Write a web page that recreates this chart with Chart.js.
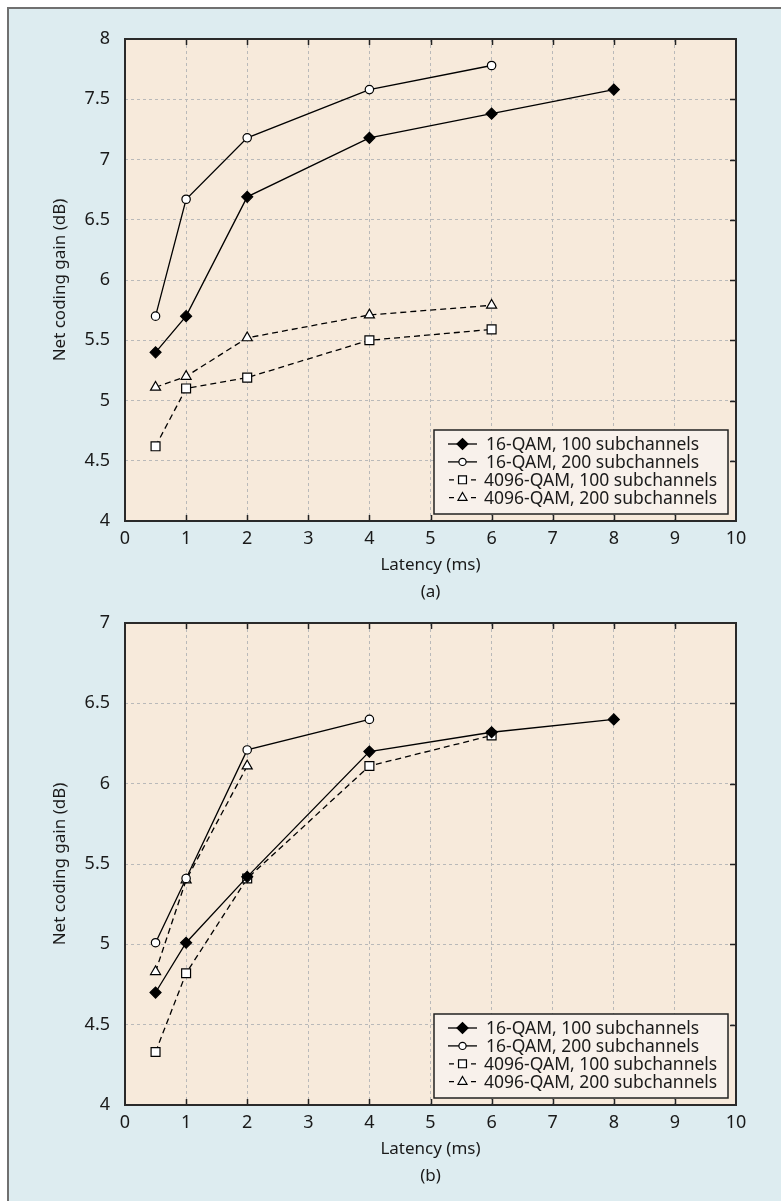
<!DOCTYPE html>
<html>
<head>
<meta charset="utf-8">
<script src="https://cdn.jsdelivr.net/npm/chart.js@4.4.1/dist/chart.umd.min.js"></script>
<style>
  html, body { margin: 0; padding: 0; background: #fff; }
  #panel { position: absolute; left: 7px; top: 7px; width: 772px; height: 1192px; background: #ddecf0;
           border-left: 2px solid #707070; border-top: 2px solid #707070; }
  .box { position: absolute; left: 0; width: 781px; height: 610px; }
</style>
</head>
<body>
<div id="panel"></div>
<div class="box" style="top:0"><canvas id="chartA" width="781" height="610"></canvas></div>
<div class="box" style="top:584px"><canvas id="chartB" width="781" height="610"></canvas></div>
<script>
// latency (ms) for each point
const latency = [0.5, 1, 2, 4, 6, 8];
const seriesNames = ["16-QAM, 100 subchannels", "16-QAM, 200 subchannels",
                     "4096-QAM, 100 subchannels", "4096-QAM, 200 subchannels"];

// (a) net coding gain (dB)
const a16_100 = [5.40, 5.70, 6.69, 7.18, 7.38, 7.58];
const a16_200 = [5.70, 6.67, 7.18, 7.58, 7.78];
const a4096_100 = [4.62, 5.10, 5.19, 5.50, 5.59];
const a4096_200 = [5.11, 5.20, 5.52, 5.71, 5.79];

// (b) net coding gain (dB)
const b16_100 = [4.70, 5.01, 5.42, 6.20, 6.32, 6.40];
const b16_200 = [5.01, 5.41, 6.21, 6.40];
const b4096_100 = [4.33, 4.82, 5.41, 6.11, 6.30];
const b4096_200 = [4.83, 5.40, 6.11];

const xTicks = [0, 1, 2, 3, 4, 5, 6, 7, 8, 9, 10];
const yTicksA = [4, 4.5, 5, 5.5, 6, 6.5, 7, 7.5, 8];
const yTicksB = [4, 4.5, 5, 5.5, 6, 6.5, 7];

const styles = [
  { pointStyle: "rectRot", radius: 5.5, legendR: 5.5, fill: "#000", dash: [] },
  { pointStyle: "circle", radius: 4.2, legendR: 3.6, fill: "#fff", dash: [] },
  { pointStyle: "rect", radius: 6.3, legendR: 5.6, fill: "#fff", dash: [6, 4] },
  { pointStyle: "triangle", radius: 5.8, legendR: 5.2, fill: "#fff", dash: [6, 4] }
];

const FONT = '"Noto Sans", "Open Sans", sans-serif';
Chart.defaults.font.family = FONT;
Chart.defaults.font.size = 18;
Chart.defaults.color = "#1a1a1a";

function makeDatasets(series) {
  return series.map((vals, i) => ({
    label: seriesNames[i],
    data: vals.map((v, j) => ({ x: latency[j], y: v })),
    borderColor: "#000",
    borderWidth: 1.3,
    borderDash: styles[i].dash,
    pointStyle: styles[i].pointStyle,
    pointRadius: styles[i].radius,
    pointBackgroundColor: styles[i].fill,
    pointBorderColor: "#000",
    pointBorderWidth: 1.2,
    tension: 0
  }));
}

function drawMarker(ctx, style, x, y, r) {
  ctx.beginPath();
  if (style === "circle") {
    ctx.arc(x, y, r, 0, Math.PI * 2);
  } else if (style === "rectRot") {
    ctx.moveTo(x - r, y); ctx.lineTo(x, y - r); ctx.lineTo(x + r, y); ctx.lineTo(x, y + r);
  } else if (style === "rect") {
    const s = r * Math.SQRT1_2;
    ctx.rect(x - s, y - s, 2 * s, 2 * s);
  } else if (style === "triangle") {
    for (let k = 0; k < 3; k++) {
      const a = k * 2 * Math.PI / 3;
      const px = x + Math.sin(a) * r, py = y - Math.cos(a) * r;
      if (k === 0) ctx.moveTo(px, py); else ctx.lineTo(px, py);
    }
  }
  ctx.closePath();
  ctx.fill();
  ctx.stroke();
}

const framePlugin = {
  id: "frame",
  beforeDraw(chart) {
    const { ctx, chartArea: a } = chart;
    ctx.save();
    ctx.fillStyle = "#f7eadb";
    ctx.fillRect(a.left, a.top, a.right - a.left, a.bottom - a.top);
    ctx.restore();
  },
  afterDatasetsDraw(chart) {
    const { ctx, chartArea: a } = chart;
    const xs = chart.scales.x, ys = chart.scales.y;
    ctx.save();
    ctx.strokeStyle = "#222";
    ctx.lineWidth = 1.5;
    ctx.beginPath();
    xs.ticks.forEach(t => {
      if (t.value <= xs.min || t.value >= xs.max) return;
      const px = Math.round(xs.getPixelForValue(t.value)) + 0.5;
      ctx.moveTo(px, a.top); ctx.lineTo(px, a.top + 6);
      ctx.moveTo(px, a.bottom); ctx.lineTo(px, a.bottom - 6);
    });
    ys.ticks.forEach(t => {
      if (t.value <= ys.min || t.value >= ys.max) return;
      const py = Math.round(ys.getPixelForValue(t.value)) + 0.5;
      ctx.moveTo(a.right, py); ctx.lineTo(a.right - 6, py);
    });
    ctx.stroke();
    ctx.lineWidth = 2;
    ctx.strokeStyle = "#2a2a2a";
    ctx.strokeRect(a.left, a.top, a.right - a.left, a.bottom - a.top);
    ctx.restore();
  },
  afterDraw(chart) {
    const { ctx, chartArea: a } = chart;
    const w = 294, h = 84;
    const x0 = a.right - 8 - w, y0 = a.bottom - 7 - h;
    ctx.save();
    ctx.fillStyle = "#f8f1eb";
    ctx.fillRect(x0, y0, w, h);
    ctx.strokeStyle = "#222";
    ctx.lineWidth = 1.5;
    ctx.strokeRect(x0, y0, w, h);
    ctx.font = "17.5px " + FONT;
    ctx.textBaseline = "middle";
    ctx.textAlign = "left";
    seriesNames.forEach((name, i) => {
      const y = y0 + 14 + i * 17.9;
      const cx = x0 + 28.5;
      ctx.strokeStyle = "#000";
      ctx.lineWidth = 1.3;
      ctx.beginPath();
      if (styles[i].dash.length) {
        ctx.moveTo(x0 + 15, y); ctx.lineTo(x0 + 20, y);
        ctx.moveTo(x0 + 37, y); ctx.lineTo(x0 + 42, y);
      } else {
        ctx.moveTo(x0 + 14, y); ctx.lineTo(x0 + 43, y);
      }
      ctx.stroke();
      ctx.fillStyle = styles[i].fill;
      ctx.lineWidth = 1.2;
      drawMarker(ctx, styles[i].pointStyle, cx, y, styles[i].legendR);
      ctx.fillStyle = "#1a1a1a";
      ctx.fillText(name, x0 + (i < 2 ? 52 : 50), y + 1);
    });
    ctx.restore();
  }
};

function makeChart(id, series, yTicks, tag) {
  return new Chart(document.getElementById(id), {
    type: "line",
    data: { datasets: makeDatasets(series) },
    plugins: [framePlugin],
    options: {
      responsive: false,
      animation: false,
      layout: { padding: { top: 39, right: 45, left: 0, bottom: 0 } },
      plugins: { legend: { display: false }, tooltip: { enabled: false } },
      scales: {
        x: {
          type: "linear",
          min: xTicks[0], max: xTicks[xTicks.length - 1],
          afterBuildTicks: s => { s.ticks = xTicks.map(v => ({ value: v })); },
          afterFit: s => { s.height = 89; },
          ticks: { padding: 7, callback: v => String(v), maxRotation: 0, autoSkip: false },
          grid: { color: "#b9b9b9", lineWidth: 1, drawTicks: false },
          border: { display: false, dash: [3, 3] },
          title: {
            display: true, text: ["Latency (ms)", tag],
            font: { size: 17, lineHeight: 1.588 }, padding: { top: 0, bottom: 4.5 }
          }
        },
        y: {
          type: "linear",
          min: yTicks[0], max: yTicks[yTicks.length - 1],
          afterBuildTicks: s => { s.ticks = yTicks.map(v => ({ value: v })); },
          afterFit: s => { s.width = 125; },
          ticks: { padding: 15, callback: v => String(v), autoSkip: false },
          grid: { color: "#b9b9b9", lineWidth: 1, drawTicks: false },
          border: { display: false, dash: [3, 3] },
          title: {
            display: true, text: "Net coding gain (dB)",
            font: { size: 17 }, padding: { top: 50, bottom: 0 }
          }
        }
      }
    }
  });
}

makeChart("chartA", [a16_100, a16_200, a4096_100, a4096_200], yTicksA, "(a)");
makeChart("chartB", [b16_100, b16_200, b4096_100, b4096_200], yTicksB, "(b)");
</script>
</body>
</html>
